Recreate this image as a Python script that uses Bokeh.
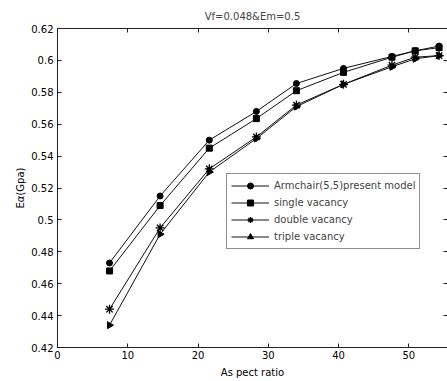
import math
from bokeh.plotting import figure
from bokeh.models import LinearAxis, Range1d, FixedTicker, Legend, LegendItem
from bokeh.embed import file_html
from bokeh.resources import INLINE

# ---- data ----
aspect_ratio = [7.4, 14.6, 21.6, 28.3, 34.0, 40.7, 47.6, 50.9, 54.3]
armchair = [0.473, 0.515, 0.550, 0.568, 0.5855, 0.595, 0.6025, 0.606, 0.609]
single_vac = [0.468, 0.509, 0.545, 0.5635, 0.581, 0.5925, 0.602, 0.606, 0.608]
double_vac = [0.444, 0.495, 0.532, 0.552, 0.572, 0.585, 0.597, 0.602, 0.603]
triple_vac = [0.434, 0.491, 0.530, 0.551, 0.571, 0.585, 0.596, 0.601, 0.603]

series_names = ["Armchair(5,5)present model", "single vacancy",
                "double vacancy", "triple vacancy"]

x_ticks = [0, 10, 20, 30, 40, 50]
y_ticks = [0.42, 0.44, 0.46, 0.48, 0.50, 0.52, 0.54, 0.56, 0.58, 0.60, 0.62]
y_tick_labels = ["0.42", "0.44", "0.46", "0.48", "0.5", "0.52", "0.54",
                 "0.56", "0.58", "0.6", "0.62"]

title_text = "Vf=0.048&Em=0.5"
x_label = "As pect ratio"
y_label = "E\u03b1(Gpa)"

FONT = "DejaVu Sans"
FS = "10px"

p = figure(width=447, height=381, output_backend="svg", toolbar_location=None,
           x_range=Range1d(0, 55.5), y_range=Range1d(0.42, 0.62),
           min_border_left=57, min_border_right=0, min_border_top=28,
           min_border_bottom=34, title=title_text)

p.title.align = "center"
p.title.text_font = FONT
p.title.text_font_size = FS
p.title.text_font_style = "normal"
p.title.standoff = 14
p.title.offset = 0

p.grid.visible = False
p.outline_line_color = None
p.background_fill_color = "white"
p.border_fill_color = "white"

for ax in (p.xaxis[0], p.yaxis[0]):
    ax.major_tick_in = 4
    ax.major_tick_out = 0
    ax.minor_tick_line_color = None
    ax.axis_line_color = "#222222"
    ax.major_tick_line_color = "#222222"
    ax.major_label_text_font = FONT
    ax.major_label_text_font_size = FS
    ax.major_label_text_color = "black"
    ax.axis_label_text_font = FONT
    ax.axis_label_text_font_size = FS
    ax.axis_label_text_font_style = "normal"
    ax.axis_label_text_color = "black"

p.xaxis[0].ticker = FixedTicker(ticks=x_ticks)
p.xaxis[0].axis_label = x_label
p.xaxis[0].major_label_standoff = 3
p.xaxis[0].axis_label_standoff = 5
p.yaxis[0].ticker = FixedTicker(ticks=y_ticks)
p.yaxis[0].major_label_overrides = {t: l for t, l in zip(y_ticks, y_tick_labels)}
p.yaxis[0].axis_label = y_label
p.yaxis[0].major_label_standoff = 4
p.yaxis[0].axis_label_standoff = 2

top_ax = LinearAxis(ticker=FixedTicker(ticks=x_ticks), major_tick_in=4,
                    major_tick_out=0, minor_tick_line_color=None,
                    major_label_overrides={t: "" for t in x_ticks},
                    major_label_standoff=0,
                    axis_line_color="#222222", major_tick_line_color="#222222")
p.add_layout(top_ax, "above")
right_ax = LinearAxis(ticker=FixedTicker(ticks=y_ticks), major_tick_in=4,
                      major_tick_out=0, minor_tick_line_color=None,
                      major_label_overrides={t: "" for t in y_ticks},
                      major_label_standoff=0,
                      axis_line_color=None, major_tick_line_color="#222222")
p.add_layout(right_ax, "right")

items = []
all_series = [armchair, single_vac, double_vac, triple_vac]
for name, ys, mk in zip(series_names, all_series,
                        ["circle", "square", "asterisk", "triangle"]):
    ln = p.line(aspect_ratio, ys, line_color="#111111", line_width=1)
    if mk == "asterisk":
        sc = p.scatter(aspect_ratio, ys, marker=mk, size=9, line_color="black",
                       fill_color=None, line_width=1.3)
    elif mk == "triangle":
        sc = p.scatter(aspect_ratio, ys, marker=mk, size=7, angle=-math.pi / 2,
                       line_color="black", fill_color="black")
    else:
        sc = p.scatter(aspect_ratio, ys, marker=mk, size=6, line_color="black",
                       fill_color="black")
    items.append(LegendItem(label=name, renderers=[ln, sc]))

legend = Legend(items=items, location=(169, 98), label_text_font=FONT,
                label_text_font_size=FS, glyph_width=38, glyph_height=15,
                label_height=15, spacing=2, padding=4, margin=0,
                label_standoff=5, border_line_color="#222222",
                border_line_width=1, background_fill_color="white",
                background_fill_alpha=1.0)
p.add_layout(legend, "center")

open("out.html", "w").write(file_html(p, INLINE))
